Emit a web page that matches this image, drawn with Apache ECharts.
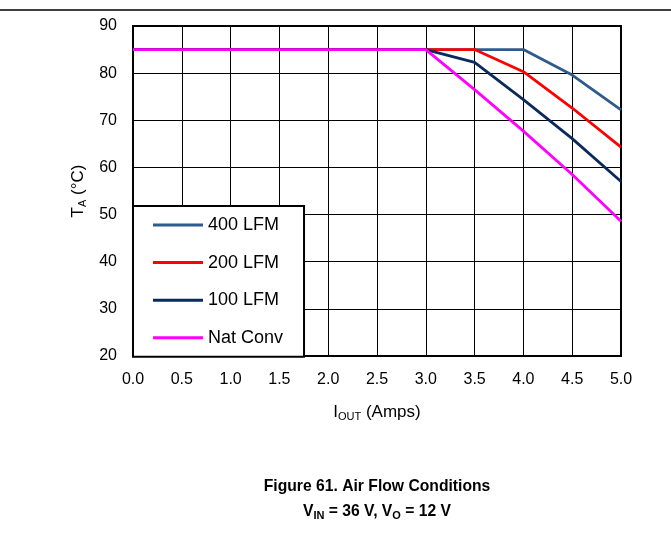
<!DOCTYPE html>
<html>
<head>
<meta charset="utf-8">
<script src="https://cdn.jsdelivr.net/npm/echarts@6/dist/echarts.min.js"></script>
<style>
  html, body { margin: 0; padding: 0; background: #fff; }
  #main { width: 671px; height: 538px; }
</style>
</head>
<body>
<div id="main"></div>
<script>
const currents = [0.0, 0.5, 1.0, 1.5, 2.0, 2.5, 3.0, 3.5, 4.0, 4.5, 5.0];
const lfm400 = [85, 85, 85, 85, 85, 85, 85, 85, 85, 79.6, 72.2];
const lfm200 = [85, 85, 85, 85, 85, 85, 85, 85, 80.3, 72.6, 64.3];
const lfm100 = [85, 85, 85, 85, 85, 85, 85, 82.3, 74.4, 66.1, 57.0];
const natConv = [85, 85, 85, 85, 85, 85, 85, 76.5, 67.7, 58.5, 48.6];
const seriesNames = ['400 LFM', '200 LFM', '100 LFM', 'Nat Conv'];
const seriesColors = ['#2e5b8c', '#ff0000', '#0b2a5c', '#ff00ff'];

const chartDom = document.getElementById('main');
const myChart = echarts.init(chartDom);

const pair = (ys) => currents.map((x, i) => [x, ys[i]]);
const allData = [lfm400, lfm200, lfm100, natConv];

const font = 'Arial, "Liberation Sans", sans-serif';

const option = {
  animation: false,
  textStyle: { fontFamily: font },
  grid: {
    left: 133, right: 50, top: 26, bottom: 182,
    show: true, borderColor: '#000', borderWidth: 2
  },
  xAxis: {
    type: 'value', min: 0, max: 5, interval: 0.5,
    axisLine: { show: true, lineStyle: { color: '#000', width: 2 } },
    axisTick: { show: false },
    splitLine: { show: true, lineStyle: { color: '#000', width: 1 } },
    axisLabel: {
      color: '#000', fontSize: 16, margin: 16, fontFamily: font,
      formatter: (v) => v.toFixed(1)
    },
    name: '{a|I}{s|OUT}{a| (Amps)}',
    nameLocation: 'middle',
    nameGap: 46,
    nameTextStyle: {
      rich: {
        a: { fontSize: 17, color: '#000', fontFamily: font },
        s: { fontSize: 11, color: '#000', fontFamily: font, padding: [9, 0, 0, 0] }
      }
    }
  },
  yAxis: {
    type: 'value', min: 20, max: 90, interval: 10,
    axisLine: { show: true, lineStyle: { color: '#000', width: 2 } },
    axisTick: { show: false },
    splitLine: { show: true, lineStyle: { color: '#000', width: 1 } },
    axisLabel: { color: '#000', fontSize: 16, margin: 16, fontFamily: font },
    name: '{a|T}{s|A}{a| (°C)}',
    nameLocation: 'middle',
    nameGap: 45,
    nameTextStyle: {
      rich: {
        a: { fontSize: 17, color: '#000', fontFamily: font },
        s: { fontSize: 11, color: '#000', fontFamily: font, padding: [9, 0, 0, 0] }
      }
    }
  },
  legend: {
    orient: 'vertical',
    left: 133, top: 206,
    backgroundColor: '#fff',
    borderColor: '#000', borderWidth: 2, borderRadius: 0,
    padding: [10, 21, 10, 20],
    itemGap: 19.6,
    itemWidth: 50, itemHeight: 3,
    itemTextGap: 6,
    icon: 'rect',
    textStyle: { fontSize: 18, color: '#000', fontFamily: font, lineHeight: 18 },
    data: seriesNames
  },
  series: seriesNames.map((name, i) => ({
    name: name,
    type: 'line',
    data: pair(allData[i]),
    showSymbol: false,
    symbol: 'none',
    color: seriesColors[i],
    lineStyle: { width: 2.8, color: seriesColors[i] }
  })),
  graphic: [
    {
      type: 'line',
      shape: { x1: 0, y1: 10, x2: 671, y2: 10 },
      style: { stroke: '#000', lineWidth: 1.5 }
    },
    {
      type: 'text', x: 377, y: 487,
      style: {
        text: 'Figure 61. Air Flow Conditions',
        font: 'bold 15.7px ' + font,
        fill: '#000', align: 'center', verticalAlign: 'middle'
      }
    },
    {
      type: 'text', x: 377, y: 512,
      style: {
        text: '{a|V}{s|IN}{a| = 36 V, V}{s|O}{a| = 12 V}',
        align: 'center', verticalAlign: 'middle',
        rich: {
          a: { font: 'bold 15.7px ' + font, fill: '#000' },
          s: { font: 'bold 11px ' + font, fill: '#000', padding: [8, 0, 0, 0] }
        }
      }
    }
  ]
};

option && myChart.setOption(option);
</script>
</body>
</html>
